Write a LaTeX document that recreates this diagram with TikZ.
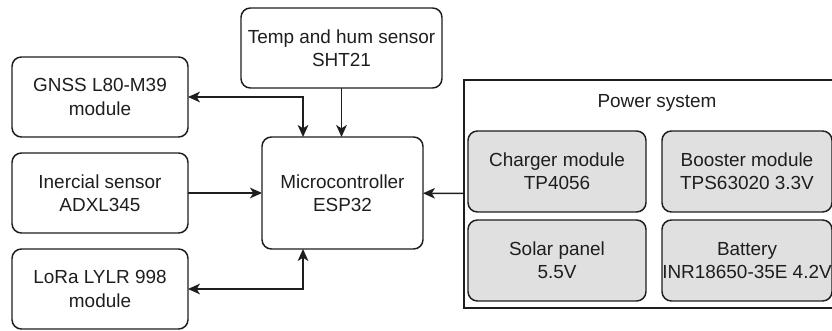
\documentclass[tikz,border=0pt]{standalone}
\usepackage{fontspec}
\setmainfont{Liberation Sans}
\usepackage{tikz}
\usetikzlibrary{arrows.meta,positioning}
\usepackage{xcolor}
\definecolor{inkdark}{HTML}{1E1E1E}
\definecolor{panelgray}{HTML}{E0E0E0}

\begin{document}
\begin{tikzpicture}[x=0.75pt, y=-0.75pt,
      box/.style={draw=inkdark, rounded corners=7pt, line width=1.1pt, inner sep=0pt, outer sep=0pt,
                  minimum width=132pt, minimum height=60pt, align=center, text=inkdark,
                  font=\fontsize{14.2}{17.5}\selectfont, fill=white},
      gbox/.style={box, fill=panelgray, minimum width=133.5pt, minimum height=60.75pt},
      frame/.style={draw=inkdark, line width=1.1pt, inner sep=0pt, outer sep=0pt,
                    minimum width=289.5pt, minimum height=171pt},
      arr/.style={-{Stealth[length=9pt,width=8pt,inset=2.5pt]}, line width=1.1pt, draw=inkdark},
      biarr/.style={arr, {Stealth[length=9pt,width=8pt,inset=2.5pt]}-{Stealth[length=9pt,width=8pt,inset=2.5pt]}}
    ]
    \useasboundingbox (0,0) rectangle (832,331);

    \node[box] (gnss) at (100,97)  {GNSS L80-M39\\module};
    \node[box] (imu)  at (100,193) {Inercial sensor\\ADXL345};
    \node[box] (lora) at (100,289) {LoRa LYLR 998\\module};
    \node[box, minimum width=150.75pt] (temp) at (341.5,48) {Temp and hum sensor\\SHT21};
    \node[box, minimum width=120.75pt, minimum height=84pt] (mcu) at (342.5,193) {Microcontroller\\ESP32};

    \node[frame] (pwr) at (657,194) {};
    \node[font=\fontsize{14.2}{17.5}\selectfont, text=inkdark] (pwrtitle) at (657,103) {Power system};
    \node[gbox] (chg)  at (557,171.5) {Charger module\\TP4056};
    \node[gbox, minimum width=127.5pt] (boost) at (747,171.5) {Booster module\\TPS63020 3.3V};
    \node[gbox] (solar) at (557,260.5) {Solar panel\\5.5V};
    \node[gbox, minimum width=127.5pt] (bat) at (747,260.5) {Battery\\INR18650-35E 4.2V};

    \draw[biarr] (gnss.east) -| ([xshift=-29.6pt]mcu.north);
    \draw[arr] (temp.south) -- (temp.south |- mcu.north);
    \draw[arr] (imu) -- (mcu);
    \draw[biarr] (lora.east) -| ([xshift=-29.6pt]mcu.south);
    \draw[arr] (pwr) -- (mcu);
  \end{tikzpicture}
\end{document}
